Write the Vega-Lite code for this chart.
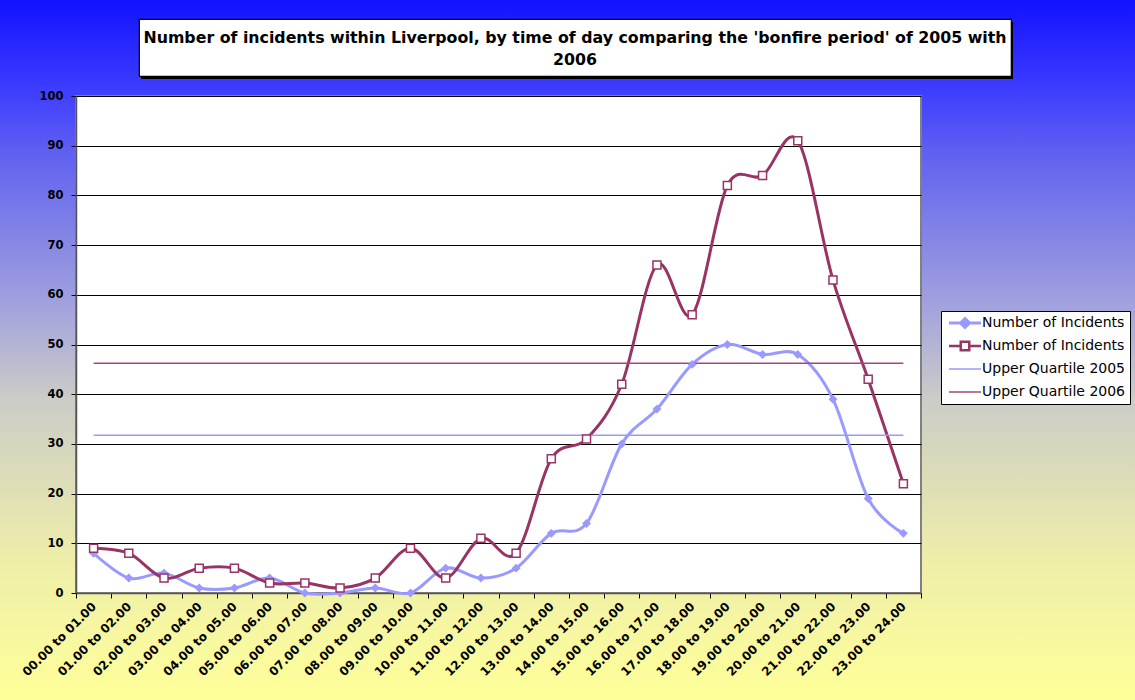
{
  "$schema": "https://vega.github.io/schema/vega-lite/v6.json",
  "padding": 0,
  "background": "#FFFF99",
  "config": {
    "view": {"stroke": null},
    "font": "DejaVu Sans"
  },
  "datasets": {
    "blank": [{}],
    "heading": [{"title": ["Number of incidents within Liverpool, by time of day comparing the 'bonfire period' of 2005 with", "2006"]}],
    "incidents": [
      {"time": "00.00 to 01.00", "series": "2005", "count": 8},
      {"time": "01.00 to 02.00", "series": "2005", "count": 3},
      {"time": "02.00 to 03.00", "series": "2005", "count": 4},
      {"time": "03.00 to 04.00", "series": "2005", "count": 1},
      {"time": "04.00 to 05.00", "series": "2005", "count": 1},
      {"time": "05.00 to 06.00", "series": "2005", "count": 3},
      {"time": "06.00 to 07.00", "series": "2005", "count": 0},
      {"time": "07.00 to 08.00", "series": "2005", "count": 0},
      {"time": "08.00 to 09.00", "series": "2005", "count": 1},
      {"time": "09.00 to 10.00", "series": "2005", "count": 0},
      {"time": "10.00 to 11.00", "series": "2005", "count": 5},
      {"time": "11.00 to 12.00", "series": "2005", "count": 3},
      {"time": "12.00 to 13.00", "series": "2005", "count": 5},
      {"time": "13.00 to 14.00", "series": "2005", "count": 12},
      {"time": "14.00 to 15.00", "series": "2005", "count": 14},
      {"time": "15.00 to 16.00", "series": "2005", "count": 30},
      {"time": "16.00 to 17.00", "series": "2005", "count": 37},
      {"time": "17.00 to 18.00", "series": "2005", "count": 46},
      {"time": "18.00 to 19.00", "series": "2005", "count": 50},
      {"time": "19.00 to 20.00", "series": "2005", "count": 48},
      {"time": "20.00 to 21.00", "series": "2005", "count": 48},
      {"time": "21.00 to 22.00", "series": "2005", "count": 39},
      {"time": "22.00 to 23.00", "series": "2005", "count": 19},
      {"time": "23.00 to 24.00", "series": "2005", "count": 12},
      {"time": "00.00 to 01.00", "series": "2006", "count": 9},
      {"time": "01.00 to 02.00", "series": "2006", "count": 8},
      {"time": "02.00 to 03.00", "series": "2006", "count": 3},
      {"time": "03.00 to 04.00", "series": "2006", "count": 5},
      {"time": "04.00 to 05.00", "series": "2006", "count": 5},
      {"time": "05.00 to 06.00", "series": "2006", "count": 2},
      {"time": "06.00 to 07.00", "series": "2006", "count": 2},
      {"time": "07.00 to 08.00", "series": "2006", "count": 1},
      {"time": "08.00 to 09.00", "series": "2006", "count": 3},
      {"time": "09.00 to 10.00", "series": "2006", "count": 9},
      {"time": "10.00 to 11.00", "series": "2006", "count": 3},
      {"time": "11.00 to 12.00", "series": "2006", "count": 11},
      {"time": "12.00 to 13.00", "series": "2006", "count": 8},
      {"time": "13.00 to 14.00", "series": "2006", "count": 27},
      {"time": "14.00 to 15.00", "series": "2006", "count": 31},
      {"time": "15.00 to 16.00", "series": "2006", "count": 42},
      {"time": "16.00 to 17.00", "series": "2006", "count": 66},
      {"time": "17.00 to 18.00", "series": "2006", "count": 56},
      {"time": "18.00 to 19.00", "series": "2006", "count": 82},
      {"time": "19.00 to 20.00", "series": "2006", "count": 84},
      {"time": "20.00 to 21.00", "series": "2006", "count": 91},
      {"time": "21.00 to 22.00", "series": "2006", "count": 63},
      {"time": "22.00 to 23.00", "series": "2006", "count": 43},
      {"time": "23.00 to 24.00", "series": "2006", "count": 22},
      {"time": "00.00 to 01.00", "series": "Upper Quartile 2005", "count": 31.75},
      {"time": "01.00 to 02.00", "series": "Upper Quartile 2005", "count": 31.75},
      {"time": "02.00 to 03.00", "series": "Upper Quartile 2005", "count": 31.75},
      {"time": "03.00 to 04.00", "series": "Upper Quartile 2005", "count": 31.75},
      {"time": "04.00 to 05.00", "series": "Upper Quartile 2005", "count": 31.75},
      {"time": "05.00 to 06.00", "series": "Upper Quartile 2005", "count": 31.75},
      {"time": "06.00 to 07.00", "series": "Upper Quartile 2005", "count": 31.75},
      {"time": "07.00 to 08.00", "series": "Upper Quartile 2005", "count": 31.75},
      {"time": "08.00 to 09.00", "series": "Upper Quartile 2005", "count": 31.75},
      {"time": "09.00 to 10.00", "series": "Upper Quartile 2005", "count": 31.75},
      {"time": "10.00 to 11.00", "series": "Upper Quartile 2005", "count": 31.75},
      {"time": "11.00 to 12.00", "series": "Upper Quartile 2005", "count": 31.75},
      {"time": "12.00 to 13.00", "series": "Upper Quartile 2005", "count": 31.75},
      {"time": "13.00 to 14.00", "series": "Upper Quartile 2005", "count": 31.75},
      {"time": "14.00 to 15.00", "series": "Upper Quartile 2005", "count": 31.75},
      {"time": "15.00 to 16.00", "series": "Upper Quartile 2005", "count": 31.75},
      {"time": "16.00 to 17.00", "series": "Upper Quartile 2005", "count": 31.75},
      {"time": "17.00 to 18.00", "series": "Upper Quartile 2005", "count": 31.75},
      {"time": "18.00 to 19.00", "series": "Upper Quartile 2005", "count": 31.75},
      {"time": "19.00 to 20.00", "series": "Upper Quartile 2005", "count": 31.75},
      {"time": "20.00 to 21.00", "series": "Upper Quartile 2005", "count": 31.75},
      {"time": "21.00 to 22.00", "series": "Upper Quartile 2005", "count": 31.75},
      {"time": "22.00 to 23.00", "series": "Upper Quartile 2005", "count": 31.75},
      {"time": "23.00 to 24.00", "series": "Upper Quartile 2005", "count": 31.75},
      {"time": "00.00 to 01.00", "series": "Upper Quartile 2006", "count": 46.25},
      {"time": "01.00 to 02.00", "series": "Upper Quartile 2006", "count": 46.25},
      {"time": "02.00 to 03.00", "series": "Upper Quartile 2006", "count": 46.25},
      {"time": "03.00 to 04.00", "series": "Upper Quartile 2006", "count": 46.25},
      {"time": "04.00 to 05.00", "series": "Upper Quartile 2006", "count": 46.25},
      {"time": "05.00 to 06.00", "series": "Upper Quartile 2006", "count": 46.25},
      {"time": "06.00 to 07.00", "series": "Upper Quartile 2006", "count": 46.25},
      {"time": "07.00 to 08.00", "series": "Upper Quartile 2006", "count": 46.25},
      {"time": "08.00 to 09.00", "series": "Upper Quartile 2006", "count": 46.25},
      {"time": "09.00 to 10.00", "series": "Upper Quartile 2006", "count": 46.25},
      {"time": "10.00 to 11.00", "series": "Upper Quartile 2006", "count": 46.25},
      {"time": "11.00 to 12.00", "series": "Upper Quartile 2006", "count": 46.25},
      {"time": "12.00 to 13.00", "series": "Upper Quartile 2006", "count": 46.25},
      {"time": "13.00 to 14.00", "series": "Upper Quartile 2006", "count": 46.25},
      {"time": "14.00 to 15.00", "series": "Upper Quartile 2006", "count": 46.25},
      {"time": "15.00 to 16.00", "series": "Upper Quartile 2006", "count": 46.25},
      {"time": "16.00 to 17.00", "series": "Upper Quartile 2006", "count": 46.25},
      {"time": "17.00 to 18.00", "series": "Upper Quartile 2006", "count": 46.25},
      {"time": "18.00 to 19.00", "series": "Upper Quartile 2006", "count": 46.25},
      {"time": "19.00 to 20.00", "series": "Upper Quartile 2006", "count": 46.25},
      {"time": "20.00 to 21.00", "series": "Upper Quartile 2006", "count": 46.25},
      {"time": "21.00 to 22.00", "series": "Upper Quartile 2006", "count": 46.25},
      {"time": "22.00 to 23.00", "series": "Upper Quartile 2006", "count": 46.25},
      {"time": "23.00 to 24.00", "series": "Upper Quartile 2006", "count": 46.25}
    ]
  },
  "hconcat": [
    {
      "width": 1135,
      "height": 700,
      "data": {"name": "blank"},
      "mark": {
        "type": "rect",
        "fill": {
          "gradient": "linear",
          "x1": 0, "y1": 0, "x2": 0, "y2": 1,
          "stops": [
            {"offset": 0, "color": "#1212FF"},
            {"offset": 0.12, "color": "#3A3AFF"},
            {"offset": 0.23, "color": "#6464F0"},
            {"offset": 0.43, "color": "#A0A0DE"},
            {"offset": 0.57, "color": "#CCCCC8"},
            {"offset": 0.8, "color": "#EEEEAA"},
            {"offset": 1, "color": "#FFFF99"}
          ]
        }
      },
      "encoding": {}
    },
    {
      "vconcat": [
        {
          "width": 1,
          "height": 8,
          "data": {"name": "blank"},
          "mark": {"type": "rect", "opacity": 0},
          "encoding": {}
        },
        {
          "hconcat": [
            {
              "width": 940,
              "height": 1,
              "data": {"name": "blank"},
              "mark": {"type": "rect", "opacity": 0},
              "encoding": {}
            },
            {
              "vconcat": [
                {
                  "width": 1,
                  "height": 1,
                  "data": {"name": "blank"},
                  "mark": {"type": "rect", "opacity": 0},
                  "encoding": {}
                },
                {
                  "width": 872,
                  "height": 57,
                  "data": {"name": "blank"},
                  "mark": {"type": "rect", "fill": "black"},
                  "encoding": {}
                }
              ],
              "spacing": 2,
              "bounds": "full",
              "align": "none"
            },
            {
              "width": 872,
              "height": 57,
              "data": {"name": "heading"},
              "view": {"fill": "white", "stroke": "black", "strokeWidth": 1.2},
              "mark": {
                "type": "text",
                "font": "DejaVu Sans",
                "fontWeight": "bold",
                "fontSize": 15.8,
                "lineHeight": 22,
                "align": "center",
                "baseline": "middle",
                "dy": -10,
                "color": "black"
              },
              "encoding": {"text": {"field": "title"}}
            }
          ],
          "spacing": -875,
          "bounds": "full",
          "align": "none"
        },
        {
          "width": 845,
          "height": 497,
          "data": {"name": "incidents"},
          "view": {"fill": "white", "stroke": "#808080", "strokeWidth": 2},
          "encoding": {
            "x": {
              "field": "time",
              "type": "ordinal",
              "sort": null,
              "scale": {"type": "band", "paddingInner": 0, "paddingOuter": 0},
              "axis": {
                "title": null,
                "labelAngle": -45,
                "labelAlign": "right",
                "labelBaseline": "middle",
                "labelFont": "DejaVu Sans",
                "labelFontWeight": "bold",
                "labelFontSize": 12,
                "labelColor": "black",
                "labelPadding": 6,
                "tickBand": "extent",
                "tickSize": 5,
                "tickColor": "black",
                "domainColor": "#555555",
                "domainWidth": 1.5,
                "grid": false
              }
            },
            "y": {
              "field": "count",
              "type": "quantitative",
              "scale": {"domain": [0, 100], "nice": false},
              "axis": {
                "title": null,
                "values": [0, 10, 20, 30, 40, 50, 60, 70, 80, 90, 100],
                "labelFont": "DejaVu Sans",
                "labelFontWeight": "bold",
                "labelFontSize": 11.5,
                "labelColor": "black",
                "labelPadding": 8,
                "tickSize": 5,
                "tickColor": "black",
                "domainColor": "#555555",
                "domainWidth": 1.5,
                "grid": true,
                "gridColor": "black",
                "gridWidth": 1,
                "gridOpacity": 1
              }
            },
            "color": {
              "field": "series",
              "type": "nominal",
              "scale": {
                "domain": ["2005", "2006", "Upper Quartile 2005", "Upper Quartile 2006"],
                "range": ["#9999FF", "#993366", "#9999FF", "#A6477A"]
              },
              "legend": {
                "title": null,
                "orient": "none",
                "legendX": 941,
                "legendY": 311,
                "fillColor": "white",
                "strokeColor": "black",
                "padding": 4,
                "labelFont": "DejaVu Sans",
                "labelFontSize": 14,
                "labelColor": "black",
                "labelLimit": 300,
                "symbolSize": 100,
                "symbolOffset": 13,
                "labelOffset": 10,
                "clipHeight": 16,
                "rowPadding": 7,
                "labelExpr": "datum.value === '2005' || datum.value === '2006' ? 'Number of Incidents' : datum.label",
                "encode": {
                  "symbols": {
                    "update": {
                      "shape": {"signal": "datum.value === '2005' ? 'M-3.2,0H3.2M0,-0.9L0.9,0L0,0.9L-0.9,0Z' : datum.value === '2006' ? 'M-3.2,0H-0.85M0.85,0H3.2M-0.85,-0.85H0.85V0.85H-0.85ZM-0.85,-0.85V0.85H0.85V-0.85Z' : 'M-3.2,0H3.2'"},
                      "fill": {"signal": "datum.value === '2005' ? '#9999FF' : datum.value === '2006' ? '#FFFFFF' : 'transparent'"},
                      "stroke": {"signal": "datum.value === '2005' || datum.value === 'Upper Quartile 2005' ? '#9999FF' : '#993366'"},
                      "strokeWidth": {"signal": "datum.value === '2005' ? 3 : datum.value === '2006' ? 2.5 : 1.5"},
                      "opacity": {"value": 1}
                    }
                  }
                }
              }
            }
          },
          "layer": [
            {
              "transform": [{"filter": {"field": "series", "equal": "2005"}}],
              "mark": {"type": "line", "interpolate": "cardinal", "tension": 0, "strokeWidth": 3}
            },
            {
              "transform": [{"filter": {"field": "series", "equal": "2006"}}],
              "mark": {"type": "line", "interpolate": "cardinal", "tension": 0, "strokeWidth": 3}
            },
            {
              "transform": [{"filter": {"field": "series", "oneOf": ["Upper Quartile 2005", "Upper Quartile 2006"]}}],
              "mark": {"type": "line", "strokeWidth": 1.5}
            },
            {
              "transform": [{"filter": {"field": "series", "equal": "2005"}}],
              "mark": {"type": "point", "shape": "diamond", "filled": true, "size": 80, "opacity": 1}
            },
            {
              "transform": [{"filter": {"field": "series", "equal": "2006"}}],
              "mark": {"type": "point", "shape": "square", "filled": false, "fill": "white", "fillOpacity": 1, "size": 64, "strokeWidth": 1.5, "opacity": 1}
            }
          ]
        }
      ],
      "spacing": 10,
      "bounds": "full",
      "align": "none"
    }
  ],
  "spacing": -1117,
  "bounds": "full",
  "align": "none"
}
